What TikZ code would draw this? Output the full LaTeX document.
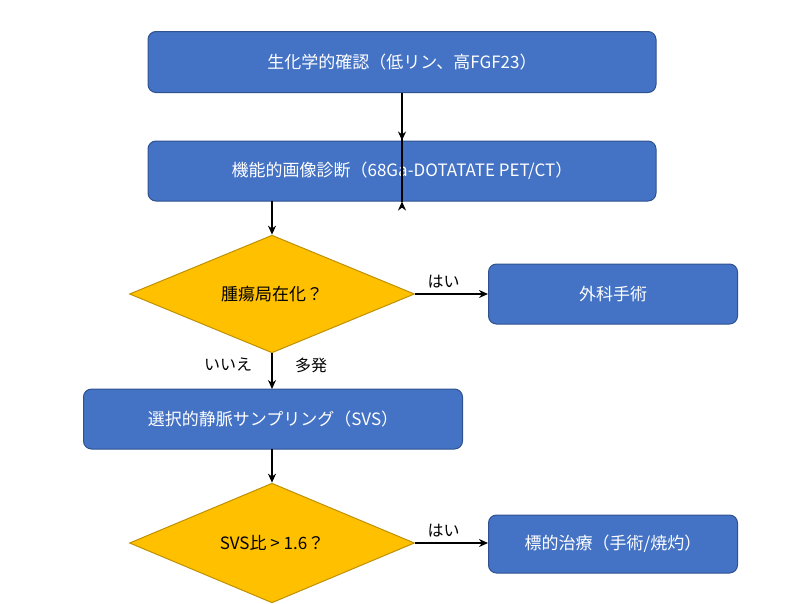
\documentclass[tikz,border=0pt]{standalone}
\usepackage{fontspec}
\setmainfont{Noto Sans CJK JP}
\usetikzlibrary{shapes.geometric,arrows.meta}
\definecolor{bfill}{HTML}{4472C4}
\definecolor{bdraw}{HTML}{2F528F}
\definecolor{yfill}{HTML}{FFC000}
\definecolor{ydraw}{HTML}{BF9000}
\begin{document}
\begin{tikzpicture}[x=1pt,y=-1pt,
  box/.style={draw=bdraw,fill=bfill,rounded corners=8pt,line width=1pt,text=white,font=\fontsize{17}{20}\selectfont,inner sep=0pt},
  dia/.style={draw=ydraw,fill=yfill,diamond,line width=1pt,font=\fontsize{17}{20}\selectfont,inner sep=0pt,minimum width=285pt,minimum height=92pt},
  arr/.style={-{Stealth[length=9pt,width=8pt]},line width=1.5pt},
  lab/.style={font=\fontsize{16}{19}\selectfont}]
\useasboundingbox (0,0) rectangle (789,603);
\node[box,minimum width=508pt,minimum height=61pt] (b1) at (402,62) {生化学的確認（低リン、高FGF23）};
\node[box,minimum width=508pt,minimum height=60pt] (b2) at (402,171) {機能的画像診断（68Ga-DOTATATE PET/CT）};
\node[dia] (d1) at (272,294) {腫瘍局在化？};
\node[box,minimum width=249pt,minimum height=60pt] (b3) at (613,294) {外科手術};
\node[box,minimum width=379pt,minimum height=60pt] (b4) at (273,419) {選択的静脈サンプリング（SVS）};
\node[dia] (d2) at (272,543) {SVS比 > 1.6？};
\node[box,minimum width=249pt,minimum height=58pt] (b5) at (613,544) {標的治療（手術/焼灼）};
\draw[arr] (b1.south) -- (b2.south -| b1.south) ++(0,0);
\draw[arr] (b1.south) -- (b2.north);
\draw[arr] (272,201) -- (d1.north);
\draw[arr] (d1.south) -- (272,389) coordinate (b4top);
\draw[arr] (272,449) -- (d2.north);
\draw[arr] (d1.east) -- (b3.west) node[lab,midway,above=2pt,xshift=-8pt] {はい};
\draw[arr] (d2.east) -- (b5.west |- d2.east) node[lab,midway,above=2pt,xshift=-8pt] {はい};
\node[lab] (n1) at (228,365) {いいえ};
\node[lab] (n2) at (311,365) {多発};
\end{tikzpicture}
\end{document}
